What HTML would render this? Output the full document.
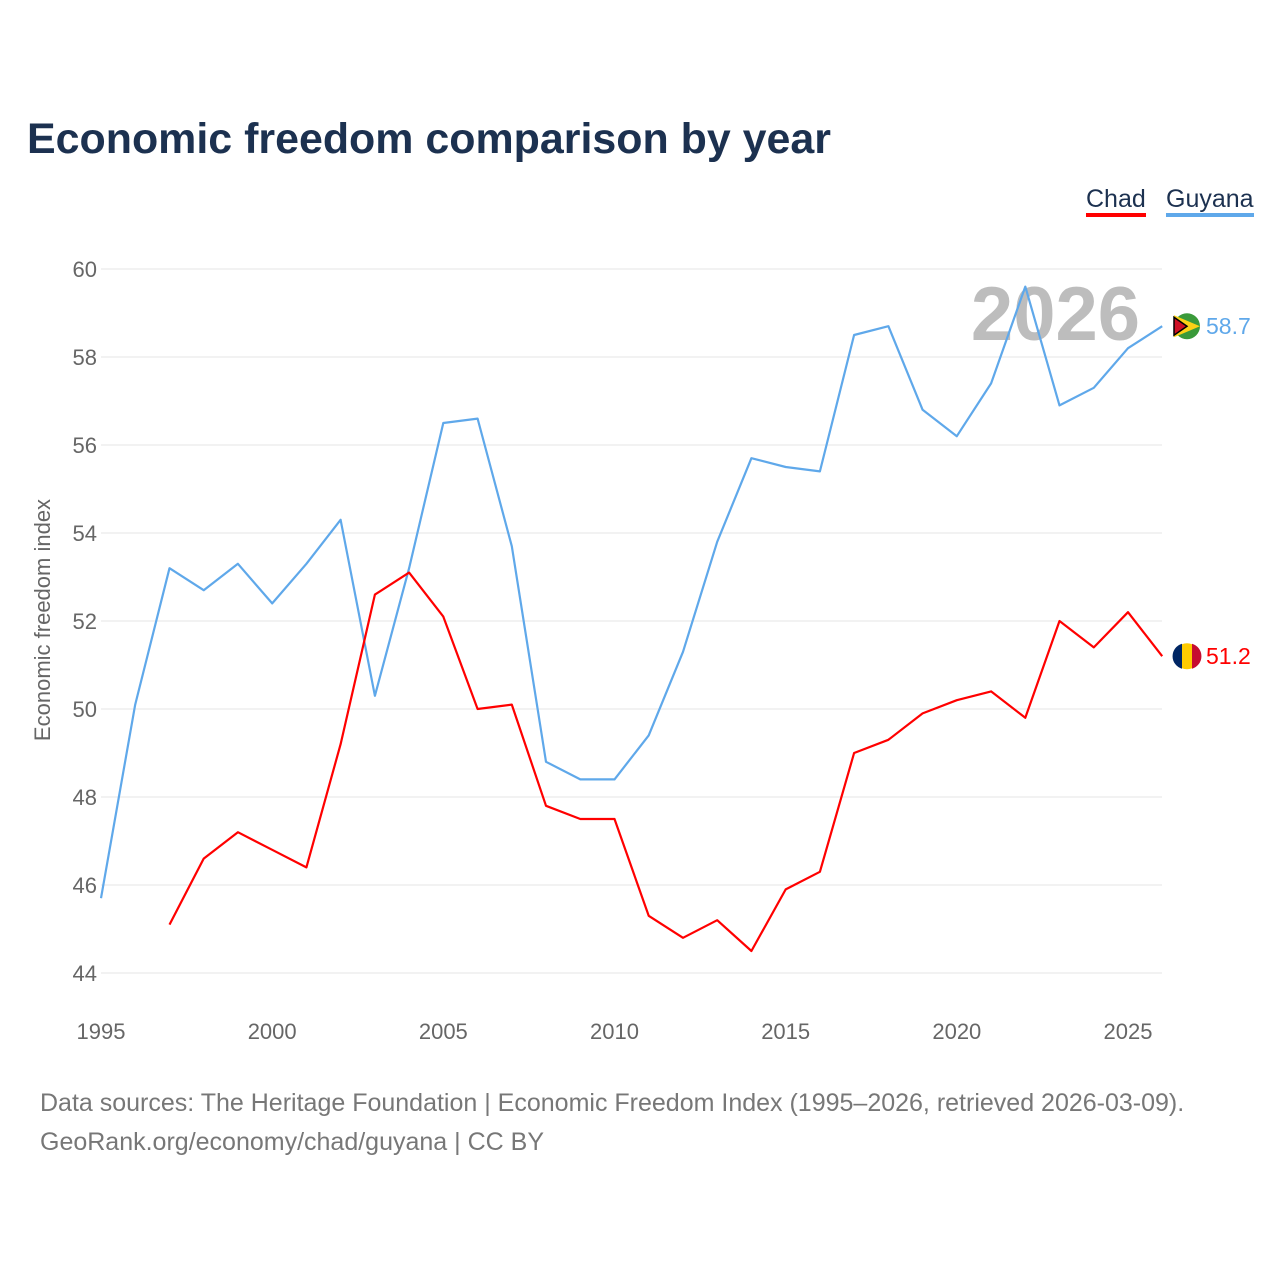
<!DOCTYPE html>
<html><head><meta charset="utf-8"><style>
body{margin:0;background:#fff;font-family:"Liberation Sans",sans-serif;}
svg text{font-family:"Liberation Sans",sans-serif;}
</style></head><body>
<svg id="chart" width="1280" height="1280" viewBox="0 0 1280 1280" xmlns="http://www.w3.org/2000/svg">
<rect width="1280" height="1280" fill="#fff"/>
<text x="27" y="153" font-size="43" font-weight="bold" fill="#1c3150" textLength="804" lengthAdjust="spacingAndGlyphs">Economic freedom comparison by year</text>
<g>
<text x="1086" y="207" font-size="25" fill="#1c3150">Chad</text>
<rect x="1086" y="213" width="60" height="4" fill="#ff0000"/>
<text x="1166" y="207" font-size="25" fill="#1c3150">Guyana</text>
<rect x="1166" y="213" width="88" height="4" fill="#5fa8ea"/>
</g>
<text x="1140" y="340" font-size="76" font-weight="bold" fill="#bdbdbd" text-anchor="end">2026</text>
<g id="grid"></g>
<g id="xaxis"></g>
<text transform="translate(50,620) rotate(-90)" font-size="22" fill="#666" text-anchor="middle">Economic freedom index</text>
<g id="series"></g>
<text x="40" y="1111" font-size="25" fill="#777">Data sources: The Heritage Foundation | Economic Freedom Index (1995–2026, retrieved 2026-03-09).</text>
<text x="40" y="1150" font-size="25" fill="#777">GeoRank.org/economy/chad/guyana | CC BY</text>
</svg>
<script>
const years=[1995,1996,1997,1998,1999,2000,2001,2002,2003,2004,2005,2006,2007,2008,2009,2010,2011,2012,2013,2014,2015,2016,2017,2018,2019,2020,2021,2022,2023,2024,2025,2026];
const guyana=[45.7,50.1,53.2,52.7,53.3,52.4,53.3,54.3,50.3,53.2,56.5,56.6,53.7,48.8,48.4,48.4,49.4,51.3,53.8,55.7,55.5,55.4,58.5,58.7,56.8,56.2,57.4,59.6,56.9,57.3,58.2,58.7];
const chad=[null,null,45.1,46.6,47.2,46.8,46.4,49.2,52.6,53.1,52.1,50.0,50.1,47.8,47.5,47.5,45.3,44.8,45.2,44.5,45.9,46.3,49.0,49.3,49.9,50.2,50.4,49.8,52.0,51.4,52.2,51.2];
const yTicks=[44,46,48,50,52,54,56,58,60];
const xTicks=[1995,2000,2005,2010,2015,2020,2025];
const NS="http://www.w3.org/2000/svg";
const x=v=>101+(v-1995)*(1128-101)/30;
const y=v=>973-(v-44)*(973-269)/16;
function mk(t,a,p){const e=document.createElementNS(NS,t);for(const k in a)e.setAttribute(k,a[k]);p.appendChild(e);return e;}
const grid=document.getElementById('grid');
yTicks.forEach(t=>{
 const l=mk('line',{x1:101,x2:1162,y1:y(t),y2:y(t),stroke:'#e6e6e6','stroke-width':1},grid);
 
 
 const tx=mk('text',{x:97,y:y(t)+8,'font-size':22,fill:'#666','text-anchor':'end'},grid);
 tx.textContent=t;
 
 
});
const xa=document.getElementById('xaxis');
xTicks.forEach(t=>{
 const tx=mk('text',{x:x(t),y:1039,'font-size':22,fill:'#666','text-anchor':'middle'},xa);
 tx.textContent=t;
 
 
});
const sg=document.getElementById('series');
function line(vals,color,name){
 let d='';vals.forEach((v,i)=>{if(v==null)return;d+=(d?'L':'M')+x(years[i]).toFixed(1)+','+y(v).toFixed(1);});
 const p=mk('path',{d:d,fill:'none',stroke:color,'stroke-width':2.2,'stroke-linejoin':'round'},sg);
 
 
 const last=vals[vals.length-1];
 const cy=y(last);
 const tx=mk('text',{x:1206,y:cy+8,'font-size':23,fill:color},sg);
 tx.textContent=last.toFixed(1);
 
 
 return cy;
}
const cg=line(guyana,'#5fa8ea','guyana');
const cc=line(chad,'#ff0000','chad');
const fg=mk('g',{},sg);


mk('circle',{cx:1187,cy:cg,r:13,fill:'#3a9a3a'},fg);
mk('path',{d:`M1174,${cg-11} L1200,${cg} L1174,${cg+11}Z`,fill:'#fcd116'},fg);
mk('path',{d:`M1174,${cg-9} L1187,${cg} L1174,${cg+9}Z`,fill:'#ce1126',stroke:'#000','stroke-width':1.5},fg);
const fc=mk('g',{},sg);


mk('circle',{cx:1187,cy:cc,r:13,fill:'#fecb00'},fc);
mk('path',{d:`M1182,${cc-12.5} A13,13 0 0 0 1182,${cc+12.5}Z`,fill:'#002664'},fc);
mk('path',{d:`M1192,${cc-12.5} A13,13 0 0 1 1192,${cc+12.5}Z`,fill:'#c60c30'},fc);
</script>
</body></html>
